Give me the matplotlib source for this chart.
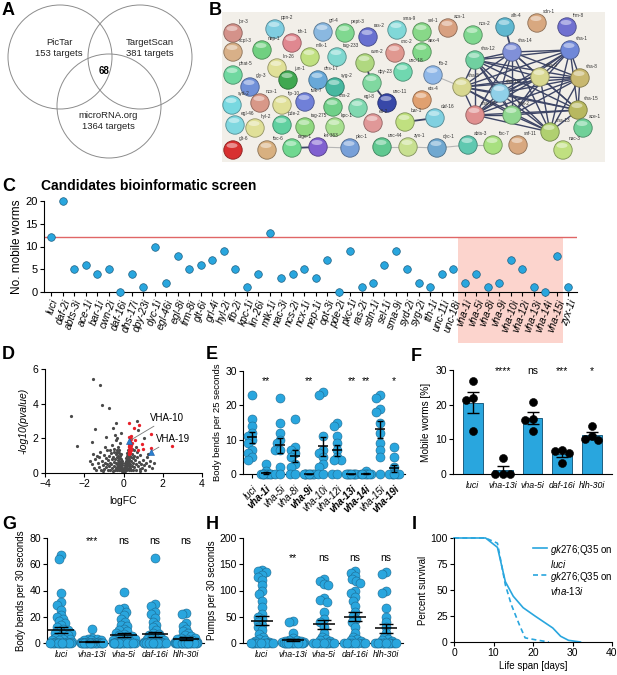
import itertools
import numpy as np
import matplotlib
matplotlib.use('Agg')
import matplotlib.pyplot as plt
import matplotlib.colors as mcolors
from matplotlib.patches import Circle, Rectangle, Ellipse

plt.rcParams['font.family'] = ['Liberation Sans', 'DejaVu Sans']
plt.rcParams['mathtext.fontset'] = 'custom'
plt.rcParams['mathtext.it'] = 'Liberation Sans:italic'
plt.rcParams['mathtext.rm'] = 'Liberation Sans'
plt.rcParams['axes.linewidth'] = 0.8

BLUE = '#29a6de'
EDGE = '#1d6990'

# ---- A: venn
venn_labels = ['PicTar\n153 targets', 'TargetScan\n381 targets', 'microRNA.org\n1364 targets']
venn_overlap = '68'

# ---- B: STRING network
net_names = ['lpr-3', 'ppn-2', 'grl-4', 'pept-3', 'ras-2', 'sma-9', 'sel-1', 'acs-1', 'ncs-2',
             'scpl-3', 'nep-1', 'tth-1', 'mlk-1', 'tag-233', 'cnc-2', 'aex-4', 'lin-26', 'cwn-2',
             'unc-18', 'phat-5', 'gly-3', 'jun-1', 'dhs-17', 'syg-2', 'dpy-23', 'ifb-2', 'ets-4',
             'unc-11', 'syd-2', 'ncx-1', 'flp-10', 'twk-7', 'chs-2', 'egl-8', 'egl-46', 'hyl-2',
             'pde-2', 'tag-275', 'kpc-1', 'ell-2', 'bar-1', 'daf-16', 'glt-6', 'tbc-6', 'rage-1',
             'let-363', 'pkc-1', 'unc-44', 'zyx-1', 'dyc-1', 'abts-3', 'tbc-7', 'snf-11', 'alh-4',
             'sdn-1', 'frm-8', 'vha-12', 'vha-14', 'vha-1', 'vha-9', 'vha-8', 'vha-5', 'vha-10',
             'vha-19', 'vha-2', 'vha-15', 'vha-13', 'ace-1', 'nac-3']
net_x = [233, 275, 323, 345, 368, 397, 422, 448, 473,
         233, 262, 292, 310, 337, 395, 422, 277, 365,
         403, 233, 250, 288, 318, 335, 372, 433, 422,
         387, 232, 260, 282, 305, 333, 358, 235, 255,
         282, 305, 335, 373, 405, 435, 233, 267, 292,
         318, 350, 382, 408, 437, 468, 493, 518, 505,
         537, 567, 475, 512, 570, 540, 580, 462, 500,
         475, 512, 578, 550, 583, 563]
net_y = [33, 29, 32, 33, 37, 30, 32, 28, 35,
         52, 50, 43, 57, 57, 53, 52, 68, 63,
         72, 75, 87, 80, 80, 87, 83, 75, 100,
         103, 105, 103, 105, 102, 107, 108, 125, 128,
         125, 127, 127, 123, 122, 118, 150, 150, 148,
         147, 148, 147, 147, 148, 145, 145, 145, 27,
         23, 27, 60, 52, 50, 77, 78, 87, 93,
         115, 115, 110, 132, 128, 150]
net_colors = ['#d4928a', '#7fcde0', '#8ab8e0', '#80d890', '#6870d0', '#80d8d8', '#88d888', '#d8a080', '#80d890',
              '#d8b088', '#70d080', '#e08890', '#c0e080', '#80d8d0', '#e09890', '#80d888', '#e0e098', '#b0d880',
              '#70d8b0', '#70d8a0', '#7090d8', '#40a850', '#68a8d8', '#48b8a0', '#80d8a0', '#90b8e8', '#e0a070',
              '#3848a8', '#78d8e0', '#d89888', '#e0e098', '#7080d8', '#70d088', '#80d8b0', '#80d8e0', '#e0e098',
              '#60d0a0', '#90d880', '#a8e090', '#e09898', '#c0e080', '#80d0e0', '#d83030', '#d8b080', '#70d890',
              '#8060d0', '#78a0d8', '#60c890', '#c8e090', '#70a8d0', '#60c8b0', '#a8e080', '#d8a880', '#60b8d0',
              '#d8a880', '#7070d0', '#70d0a0', '#8090d8', '#7088d8', '#d8d890', '#c8b870', '#d8d890', '#90d0e8',
              '#e09090', '#90d890', '#b8b860', '#b0d070', '#70d098', '#c0e080']
vha_cluster = ['vha-12', 'vha-14', 'vha-1', 'vha-9', 'vha-8', 'vha-5', 'vha-10',
               'vha-19', 'vha-2', 'vha-15', 'vha-13']
strong_edges = [('cwn-2', 'dpy-23'), ('dpy-23', 'unc-11'), ('rage-1', 'let-363'),
                ('bar-1', 'daf-16'), ('alh-4', 'vha-14')]
weak_edges = [('ifb-2', 'vha-5'), ('let-363', 'pkc-1'), ('unc-44', 'zyx-1'),
              ('zyx-1', 'dyc-1'), ('dyc-1', 'abts-3'), ('abts-3', 'tbc-7')]

# ---- C: screen
screen_genes = ['luci', 'daf-2i', 'abts-3i', 'ace-1i', 'bar-1i', 'cwn-2i', 'daf-16i', 'dhs-17i',
                'dpy-23i', 'dyc-1i', 'egl-46i', 'egl-8i', 'frm-8i', 'glt-6i', 'grl-4i', 'hyl-2i',
                'ifb-2i', 'kpc-1i', 'lin-26i', 'mlk-1i', 'nac-3i', 'ncs-2i', 'ncx-1i', 'nep-1i',
                'opt-3i', 'pde-2i', 'pkc-1i', 'ras-2i', 'sdn-1i', 'sel-1i', 'sma-9i', 'syd-2i',
                'syg-2i', 'tth-1i', 'unc-11i', 'unc-18i', 'vha-1i', 'vha-5i', 'vha-8i', 'vha-9i',
                'vha-10i', 'vha-12i', 'vha-13i', 'vha-14i', 'vha-15i', 'zyx-1i']
screen_mobile = [12, 20, 5, 6, 4, 5, 0, 4, 1, 10, 2, 8, 5, 6, 7, 9, 5, 1, 4, 13, 3, 4, 5, 3,
                 7, 0, 9, 1, 2, 6, 9, 5, 2, 1, 4, 5, 2, 4, 1, 2, 7, 5, 1, 0, 8, 1]
screen_threshold = 12

# ---- D: volcano
gray_logfc = [-1.53, -1.2, -2.67, -1.08, -2.37, -0.75, -1.45, -1.58, 0.67, 0.72, -0.55, -0.9, 1.05, -0.4, -0.15,
              -1.6, -1.5, -1.45, -1.4, -1.35, -1.3, -1.25, -1.2, -1.15, -1.1, -1.05, -1.0, -0.98, -0.95, -0.9,
              -0.88, -0.85, -0.82, -0.8, -0.78, -0.75, -0.72, -0.7, -0.68, -0.65, -0.63, -0.6, -0.58, -0.55,
              -0.53, -0.5, -0.48, -0.46, -0.44, -0.42, -0.4, -1.25, -1.05, -0.92, -0.7, -0.6, -0.5, -1.7, -1.55,
              -0.38, -0.45,
              -0.38, -0.36, -0.35, -0.34, -0.32, -0.31, -0.3, -0.29, -0.28, -0.27, -0.26, -0.25, -0.24, -0.23,
              -0.22, -0.21, -0.2, -0.19, -0.18, -0.17, -0.16, -0.15, -0.14, -0.13, -0.12, -0.11, -0.1, -0.09,
              -0.08, -0.07, -0.06, -0.05, -0.04, -0.03, -0.02, -0.01, -0.33, -0.29, -0.25, -0.21, -0.17, -0.13,
              -0.1, -0.07, -0.31, -0.24, -0.15, -0.35,
              0.01, 0.02, 0.03, 0.04, 0.05, 0.06, 0.07, 0.08, 0.09, 0.1, 0.11, 0.12, 0.13, 0.14, 0.15, 0.16,
              0.17, 0.18, 0.19, 0.2, 0.21, 0.22, 0.23, 0.24, 0.25, 0.26, 0.27, 0.28, 0.29, 0.3, 0.12, 0.15,
              0.18, 0.21, 0.24, 0.27, 0.05, 0.08,
              0.32, 0.34, 0.36, 0.38, 0.4, 0.42, 0.44, 0.46, 0.48, 0.5, 0.53, 0.56, 0.6, 0.63, 0.66, 0.7, 0.74,
              0.78, 0.82, 0.86, 0.9, 0.95, 1.0, 1.05, 1.1, 1.15, 1.2, 1.28, 1.35, 1.45, 1.55, 0.55, 0.7, 0.85,
              1.25, 0.45, 0.65, 0.35, 0.4]
gray_logp = [5.4, 5.05, 3.26, 3.92, 1.55, 3.73, 2.52, 1.79, 3.0, 2.49, 2.6, 2.1, 2.0, 2.9, 2.3,
             0.5, 0.3, 0.8, 0.2, 1.0, 0.6, 0.35, 1.2, 0.15, 0.7, 0.45, 1.05, 0.25, 0.6, 0.85,
             0.35, 1.3, 0.5, 0.15, 0.75, 1.0, 0.4, 0.6, 0.2, 1.15, 0.5, 0.8, 0.3, 0.95,
             0.1, 0.65, 1.4, 0.4, 0.8, 0.2, 1.1, 0.9, 0.1, 1.5, 1.3, 1.6, 1.2, 0.7, 1.1,
             1.9, 2.2,
             0.3, 0.6, 0.9, 0.15, 0.5, 1.2, 0.75, 0.25, 1.0, 0.45, 1.5, 0.6, 0.2, 0.85,
             1.3, 0.4, 0.65, 1.75, 0.3, 1.0, 0.5, 0.15, 0.8, 0.35, 0.6, 0.2, 0.45, 0.1,
             0.3, 0.55, 0.15, 0.25, 0.08, 0.18, 0.05, 0.1, 0.35, 0.55, 0.95, 0.7, 0.25, 0.5,
             0.7, 0.2, 2.0, 1.15, 1.1, 1.35,
             0.08, 0.15, 0.05, 0.25, 0.12, 0.35, 0.2, 0.45, 0.1, 0.55, 0.3, 0.7, 0.2, 0.85, 0.4, 1.0,
             0.6, 0.3, 1.15, 0.75, 0.5, 1.3, 0.9, 0.25, 0.6, 1.1, 0.4, 0.8, 0.2, 1.0, 0.4, 0.15,
             0.55, 0.95, 0.45, 0.7, 0.3, 0.2,
             0.5, 0.3, 0.9, 0.15, 0.7, 1.1, 0.4, 0.85, 0.2, 0.6, 1.0, 0.35, 0.75, 0.5, 0.15, 0.9, 0.4,
             0.65, 0.25, 1.05, 0.5, 0.3, 0.75, 0.45, 0.2, 0.6, 0.9, 0.4, 0.7, 0.3, 0.55, 1.3, 1.2, 0.1,
             1.1, 1.4, 1.5, 1.25, 1.6]
red_logfc = [0.26, 0.28, 0.3, 0.32, 0.34, 0.36, 0.38, 0.3, 0.33, 0.36, 0.27, 0.4, 0.42, 0.29, 0.35,
             0.31, 0.38, 0.3, 0.55, 0.8, 0.3, 0.92, 0.97, 1.38, 1.38, 2.45, 0.6, 0.75]
red_logp = [1.2, 1.35, 1.5, 1.25, 1.4, 1.6, 1.3, 1.7, 1.85, 1.95, 1.55, 1.45, 1.75, 1.1, 1.15,
            2.05, 2.15, 2.87, 2.62, 2.78, 2.1, 1.65, 1.36, 2.23, 1.46, 1.55, 1.9, 1.3]
vha_logfc = [0.3, 1.38]
vha_logp = [1.84, 1.2]
vha_names = ['VHA-10', 'VHA-19']

# ---- E: body bends, vha knockdowns
e_labels = ['luci', 'vha-1i', 'vha-5i', 'vha-8i', 'vha-9i', 'vha-10i', 'vha-12i',
            'vha-13i', 'vha-14i', 'vha-15i', 'vha-19i']
e_bold = ['vha-1i', 'vha-9i', 'vha-13i', 'vha-14i', 'vha-19i']
e_values = [[23, 16, 14, 12, 11, 10, 9, 7, 6, 5, 4],
            [3, 1, 0, 0, 0, 0, 0, 0, 0, 0],
            [22, 15, 12, 10, 9, 7, 7, 2, 0, 0],
            [16, 8, 7, 6, 5, 3, 2, 0, 0],
            [0, 0, 0, 0, 0, 0, 0, 0, 0, 0],
            [24, 23, 11, 7, 6, 5, 3, 2, 0, 0],
            [15, 14, 11, 9, 7, 5, 4, 4, 0, 0],
            [0, 0, 0, 0, 0, 0, 0, 0, 0, 0],
            [1, 0, 0, 0, 0, 0, 0, 0],
            [23, 22, 19, 18, 15, 12, 9, 7, 5, 0],
            [8, 5, 2, 0, 0, 0, 0, 0, 0]]
e_stars = ['', '**', '', '', '**', '', '', '**', '**', '', '*']

# ---- F: mobile worms
f_labels = ['luci', 'vha-13i', 'vha-5i', 'daf-16i', 'hlh-30i']
f_values = [[26.7, 22.0, 21.4, 12.3],
            [4.7, 0, 0, 0],
            [20.8, 16.0, 15.5, 12.5],
            [6.0, 7.0, 6.5, 3.3],
            [13.8, 11.0, 10.0, 9.8]]
f_stars = ['', '****', 'ns', '***', '*']

# ---- G, H
gh_labels = ['luci', 'vha-13i', 'vha-5i', 'daf-16i', 'hlh-30i']
g_values = [[67, 64, 38, 31, 29, 25, 21, 20, 18, 17, 15, 14, 12, 11, 10, 9, 8, 8, 7, 6, 5, 4, 3, 3,
             2, 2, 1, 1, 1] + [0] * 16,
            [11, 4, 3, 3, 2, 2, 2, 1, 1, 1, 1] + [0] * 20,
            [39, 27, 26, 24, 21, 18, 16, 14, 13, 11, 10, 9, 8, 7, 6, 5, 5, 4, 4, 3, 3, 2, 2, 1, 1, 1]
            + [0] * 20,
            [65, 30, 28, 24, 22, 19, 16, 14, 12, 10, 8, 7, 6, 5, 4, 3, 3, 2, 2, 1, 1] + [0] * 22,
            [23, 22, 15, 13, 11, 9, 8, 6, 5, 4, 4, 3, 3, 2, 2, 1, 1, 1] + [0] * 22]
g_stars = ['', '***', 'ns', 'ns', 'ns']
h_values = [[140, 138, 135, 130, 125, 120, 110, 100, 93, 80, 68, 55, 50, 45, 40, 35, 30, 25, 18, 12,
             8, 5, 3, 2] + [0] * 13,
            [42, 40, 20, 10, 6, 5, 4, 3, 2, 2, 1] + [0] * 15,
            [122, 118, 112, 110, 85, 82, 78, 60, 45, 40, 30, 20, 12, 8, 5, 3] + [0] * 10,
            [138, 133, 128, 122, 118, 115, 100, 95, 88, 80, 70, 60, 52, 45, 40, 30, 20, 12, 8, 5, 3]
            + [0] * 8,
            [135, 132, 100, 95, 67, 50, 40, 30, 20, 12, 8, 5, 3] + [0] * 12]
h_stars = ['', '**', 'ns', 'ns', 'ns']

# ---- I: survival
luci_days = [0, 8, 11, 13, 15, 17.5, 20.5, 25, 27, 29, 32]
luci_surv = [100, 100, 91, 58, 44, 33, 25, 13.5, 5.5, 1.6, 0]
vha13_days = [0, 8, 11, 13, 14.5, 16.5, 18, 20.5, 24]
vha13_surv = [100, 100, 95, 55, 36, 17, 4, 2.2, 0]

W, H = 617, 675
fig = plt.figure(figsize=(W / 100, H / 100), dpi=100)


def px_axes(l, t, r, b):
    ax = fig.add_axes([l / W, 1 - b / H, (r - l) / W, (b - t) / H])
    ax.set_facecolor('none')
    return ax


def gp_style(ax, fs=7.5):
    for s in ['top', 'right']:
        ax.spines[s].set_visible(False)
    ax.tick_params(labelsize=fs, length=3, width=0.8, pad=1.5)


def swarm(vals, unit_px, dot, max_half):
    # simple beeswarm in pixel units, squeezed into +-max_half
    placed = []
    out = np.zeros(len(vals))
    grid = np.linspace(-max_half, max_half, 41)
    for i in np.argsort(vals, kind='stable')[::-1]:
        y = vals[i] * unit_px
        near = [(px, py) for px, py in placed if abs(py - y) < dot]
        cands = [0.0]
        for px, py in near:
            dx = np.sqrt(dot ** 2 - (py - y) ** 2)
            cands += [px - dx, px + dx]
        best = None
        for c in sorted(cands, key=abs):
            if abs(c) <= max_half + 1e-6 and all((c - px) ** 2 + (y - py) ** 2 >= dot ** 2 - 1e-6
                                                 for px, py in near):
                best = c
                break
        if best is None:
            d = [min((g - px) ** 2 + (y - py) ** 2 for px, py in near) for g in grid]
            best = grid[int(np.argmax(d))]
        placed.append((best, y))
        out[i] = best
    return out


def dot_panel(ax, groups, cat_px, unit_px, dot_px, half_px, mean_half, cap_px, color=BLUE,
              edge=EDGE, with_mean=True, pack=0.6):
    for i, vals in enumerate(groups):
        vals = np.asarray(vals, float)
        off = swarm(vals, unit_px, dot_px * pack, half_px) / cat_px
        ax.scatter(i + off, vals, s=(dot_px * 0.72) ** 2, c=color, edgecolors=edge,
                   linewidths=0.4, clip_on=False, zorder=3)
        if with_mean:
            m = vals.mean()
            se = vals.std(ddof=1) / np.sqrt(len(vals))
            ax.plot([i - mean_half, i + mean_half], [m, m], color='k', lw=1.1, zorder=4,
                    solid_capstyle='butt', clip_on=False)
            ax.errorbar(i, m, yerr=se, color='k', lw=1.0, capsize=cap_px * 0.72, capthick=1.0,
                        zorder=4, clip_on=False)


# overlay in pixel coordinates
ax0 = fig.add_axes([0, 0, 1, 1], zorder=-1)
ax0.set_xlim(0, W)
ax0.set_ylim(H, 0)
ax0.axis('off')

for lab, (x, y) in zip('ABCDEFGHI', [(2, 2), (209, 2), (2, 178), (2, 346), (206, 346),
                                      (411, 348), (2, 516), (206, 516), (412, 516)]):
    ax0.text(x, y, lab, fontsize=13, fontweight='bold', ha='left', va='top')

# A
for (cx, cy) in [(60, 57), (140, 57), (109, 106)]:
    ax0.add_patch(Circle((cx, cy), 52, fill=False, ec='#8c8c8c', lw=0.7))
for lab, (x, y) in zip(venn_labels, [(59, 48), (150, 48), (108, 121)]):
    ax0.text(x, y, lab, fontsize=6.8, ha='center', va='center', linespacing=1.15, color='#222222')
ax0.text(104, 71, venn_overlap, fontsize=7, fontweight='bold', ha='center', va='center')

# B
ax0.add_patch(Rectangle((222, 12), 383, 150, fc='#f2efe9', ec='none', zorder=1))
pos = {n: (x, y) for n, x, y in zip(net_names, net_x, net_y)}
for a, b in itertools.combinations(vha_cluster, 2):
    ax0.plot([pos[a][0], pos[b][0]], [pos[a][1], pos[b][1]], color='#3d4566', lw=1.0, zorder=2)
for a, b in strong_edges:
    ax0.plot([pos[a][0], pos[b][0]], [pos[a][1], pos[b][1]], color='#3d4566', lw=1.3, zorder=2)
for a, b in weak_edges:
    ax0.plot([pos[a][0], pos[b][0]], [pos[a][1], pos[b][1]], color='#b5b5b5', lw=0.8, zorder=2)
for n, x, y, c in zip(net_names, net_x, net_y, net_colors):
    rgb = np.array(mcolors.to_rgb(c))
    ax0.add_patch(Circle((x, y), 9.2, fc=c, ec=rgb * 0.65, lw=0.6, zorder=3))
    ax0.add_patch(Ellipse((x - 1, y - 4.5), 11, 5, fc='white', ec='none', alpha=0.45, zorder=4))
    ax0.text(x + 6, y - 9, n, fontsize=3.4, color='#333333', ha='left', va='bottom', zorder=5)

# C
ax0.add_patch(Rectangle((458, 237), 105, 106, fc='#fcd4cd', ec='none', zorder=0))
ax0.text(149, 186, 'Candidates bioinformatic screen', fontsize=10, fontweight='bold',
         ha='center', va='center')
axC = px_axes(44, 201, 577, 292)
gp_style(axC, 8)
xc = np.arange(len(screen_genes))
axC.axhline(screen_threshold, color='#e06666', lw=1.0, zorder=1)
axC.scatter(xc, screen_mobile, s=30, c=BLUE, edgecolors='#1d5f82', linewidths=0.5,
            clip_on=False, zorder=3)
axC.set_xlim(-0.61, 45.74)
axC.set_ylim(0, 20)
axC.set_yticks([0, 5, 10, 15, 20])
axC.set_xticks(xc)
axC.set_xticklabels(screen_genes, rotation=70, ha='right', rotation_mode='anchor',
                    fontstyle='italic', fontsize=7.4)
axC.set_ylabel('No. mobile worms', fontsize=8.5, labelpad=2)

# D
axD = px_axes(45, 369, 202, 473)
gp_style(axD, 7.5)
axD.plot(gray_logfc, gray_logp, 'o', ms=2.3, color='#4a4a4a', mec='none', clip_on=False)
axD.plot(red_logfc, red_logp, 'o', ms=2.4, color='#e8202a', mec='none', zorder=3)
axD.plot(vha_logfc, vha_logp, '^', ms=5, color='#2a7fd0', mec='#1a5aa0', mew=0.4, zorder=4)
axD.annotate(vha_names[0], xy=(vha_logfc[0] + 0.05, vha_logp[0] + 0.05), xytext=(1.35, 3.15),
             fontsize=7, va='center', ha='left',
             arrowprops=dict(arrowstyle='-', color='#777777', lw=0.6, shrinkA=0, shrinkB=0))
axD.annotate(vha_names[1], xy=(vha_logfc[1] + 0.05, vha_logp[1] + 0.05), xytext=(1.63, 1.94),
             fontsize=7, va='center', ha='left',
             arrowprops=dict(arrowstyle='-', color='#777777', lw=0.6, shrinkA=0, shrinkB=0))
axD.set_xlim(-4, 4)
axD.set_ylim(0, 6)
axD.set_xticks([-4, -2, 0, 2, 4])
axD.set_yticks([0, 2, 4, 6])
axD.set_xlabel('logFC', fontsize=7.5, labelpad=5)
axD.set_ylabel('-log10(pvalue)', fontsize=7.5, fontstyle='italic', labelpad=3)

# E
axE = px_axes(243, 371, 405, 474)
gp_style(axE, 7.5)
dot_panel(axE, e_values, 14.2, 103 / 30, 9, 5, 0.35, 3, pack=0.55)
axE.set_xlim(-0.63, 10.77)
axE.set_ylim(0, 30)
axE.set_yticks([0, 10, 20, 30])
axE.set_xticks(range(len(e_labels)))
axE.set_xticklabels(e_labels, rotation=45, ha='right', rotation_mode='anchor',
                    fontstyle='italic', fontsize=7)
axE.tick_params(axis='x', pad=4)
for t in axE.get_xticklabels():
    if t.get_text() in e_bold:
        t.set_fontweight('bold')
for i, s in enumerate(e_stars):
    axE.text(i, 27.2, s, fontsize=7.5, ha='center', va='center')
axE.set_ylabel('Body bends per 25 seconds', fontsize=6.8, labelpad=2)

# F
axF = px_axes(453, 370, 612, 474)
gp_style(axF, 7.5)
f_means = [np.mean(v) for v in f_values]
f_sem = [np.std(v, ddof=1) / np.sqrt(len(v)) for v in f_values]
axF.bar(range(len(f_labels)), f_means, width=0.67, color=BLUE, edgecolor='#1d5f82', lw=0.7,
        zorder=2)
axF.errorbar(range(len(f_labels)), f_means, yerr=f_sem, fmt='none', ecolor='k', elinewidth=1.0,
             capsize=4, capthick=1.0, zorder=3)
dot_panel(axF, f_values, 29.75, 104 / 30, 8, 8, 0, 0, color='k', edge='k', with_mean=False,
          pack=0.95)
axF.set_xlim(-0.67, 4.67)
axF.set_ylim(0, 30)
axF.set_yticks([0, 10, 20, 30])
axF.set_xticks(range(len(f_labels)))
axF.set_xticklabels(f_labels, fontstyle='italic', fontsize=6.3)
axF.tick_params(axis='x', length=0, pad=5)
for i, s in enumerate(f_stars):
    axF.text(i, 29.6, s, fontsize=7.5, ha='center', va='center')
axF.set_ylabel('Mobile worms [%]', fontsize=7.2, labelpad=3)

# G
axG = px_axes(47, 538, 204, 643)
gp_style(axG, 7.5)
dot_panel(axG, g_values, 31.3, 105 / 80, 9, 11, 0.42, 7, pack=0.5)
axG.set_xlim(-0.45, 4.57)
axG.set_ylim(0, 80)
axG.set_yticks([0, 20, 40, 60, 80])
axG.set_xticks(range(len(gh_labels)))
axG.set_xticklabels(gh_labels, fontstyle='italic', fontsize=6.3)
axG.tick_params(axis='x', length=0, pad=5)
for i, s in enumerate(g_stars):
    axG.text(i, 77.5, s, fontsize=7.5, ha='center', va='center')
axG.set_ylabel('Body bends per 30 seconds', fontsize=7, labelpad=2)

# H
axH = px_axes(243, 538, 403, 643)
gp_style(axH, 7.5)
dot_panel(axH, h_values, 31, 105 / 200, 9, 11, 0.36, 7, pack=0.5)
axH.set_xlim(-0.61, 4.55)
axH.set_ylim(0, 200)
axH.set_yticks([0, 50, 100, 150, 200])
axH.set_xticks(range(len(gh_labels)))
axH.set_xticklabels(gh_labels, fontstyle='italic', fontsize=6.3)
axH.tick_params(axis='x', length=0, pad=5)
for i, s in enumerate(h_stars):
    axH.text(i, 162, s, fontsize=7.5, ha='center', va='center')
axH.set_ylabel('Pumps per 30 seconds', fontsize=7, labelpad=2)

# I
axI = px_axes(454, 538, 612, 642)
gp_style(axI, 7.5)
axI.plot(luci_days, luci_surv, color=BLUE, lw=1.2, clip_on=False)
axI.plot(vha13_days, vha13_surv, color=BLUE, lw=1.2, ls=(0, (3, 2)), clip_on=False)
axI.set_xlim(0, 40)
axI.set_ylim(0, 100)
axI.set_xticks([0, 10, 20, 30, 40])
axI.set_yticks([0, 25, 50, 75, 100])
axI.set_xlabel('Life span [days]', fontsize=7, labelpad=2)
axI.set_ylabel('Percent survival', fontsize=7, labelpad=2)
ax0.plot([533, 547], [548, 548], color=BLUE, lw=1.2)
ax0.plot([533, 547], [575, 575], color=BLUE, lw=1.2, ls=(0, (3, 2)))
ax0.text(550, 543, r'$\it{gk276}$;Q35 on' + '\n' + r'$\it{luci}$', fontsize=7, va='top',
         ha='left', linespacing=1.1)
ax0.text(550, 570, r'$\it{gk276}$;Q35 on' + '\n' + r'$\it{vha}$-$\it{13i}$', fontsize=7,
         va='top', ha='left', linespacing=1.1)

fig.savefig('out.png', dpi=100)
